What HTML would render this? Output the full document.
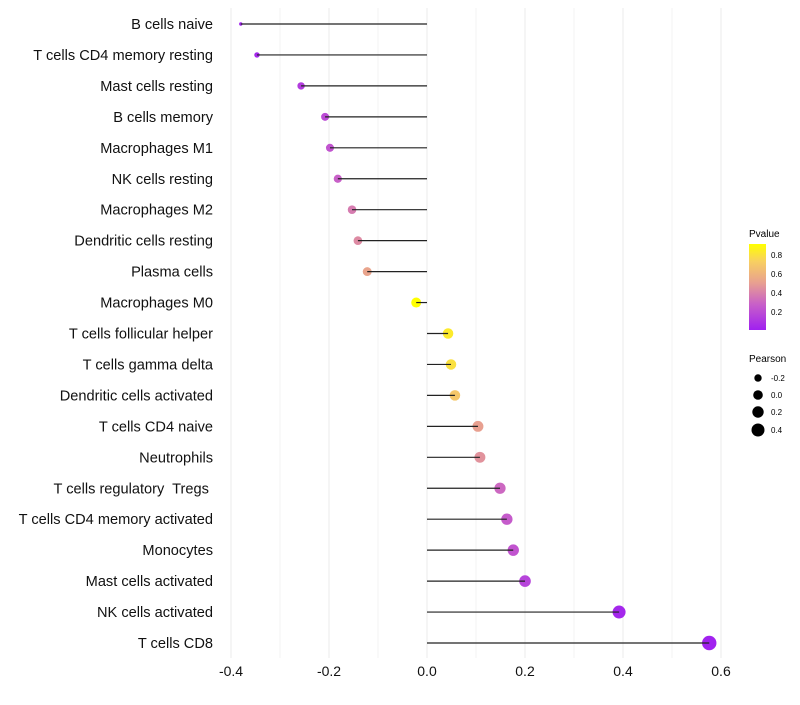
<!DOCTYPE html>
<html><head><meta charset="utf-8"><style>
body{margin:0;background:#fff;font-family:"Liberation Sans",sans-serif}
text{white-space:pre}
</style></head><body>
<svg id="c" width="800" height="700" xmlns="http://www.w3.org/2000/svg">
<defs><linearGradient id="pg" x1="0" y1="1" x2="0" y2="0">
<stop offset="0" stop-color="#a020f0"/><stop offset="0.3" stop-color="#c860c8"/><stop offset="0.55" stop-color="#e8a090"/><stop offset="0.8" stop-color="#f8d060"/><stop offset="1" stop-color="#ffff00"/></linearGradient></defs>
<g id="grid"></g><g id="marks"></g><g id="ylab"></g><g id="xlab"></g>
<g>
<text x="749" y="237" font-size="10">Pvalue</text>
<rect x="749" y="244" width="17" height="86" fill="url(#pg)"/>
<text x="771" y="258" font-size="8">0.8</text><text x="771" y="277" font-size="8">0.6</text>
<text x="771" y="296" font-size="8">0.4</text><text x="771" y="315" font-size="8">0.2</text>
</g>
<g>
<text x="749" y="362" font-size="10">Pearson</text>
<circle cx="758" cy="378" r="3.7"/><text x="771" y="381" font-size="8">-0.2</text>
<circle cx="758" cy="395" r="4.8"/><text x="771" y="398" font-size="8">0.0</text>
<circle cx="758" cy="412" r="5.7"/><text x="771" y="415" font-size="8">0.2</text>
<circle cx="758" cy="430" r="6.5"/><text x="771" y="433" font-size="8">0.4</text>
</g>
</svg>
<script>
const categories=["B cells naive","T cells CD4 memory resting","Mast cells resting","B cells memory","Macrophages M1","NK cells resting","Macrophages M2","Dendritic cells resting","Plasma cells","Macrophages M0","T cells follicular helper","T cells gamma delta","Dendritic cells activated","T cells CD4 naive","Neutrophils","T cells regulatory  Tregs ","T cells CD4 memory activated","Monocytes","Mast cells activated","NK cells activated","T cells CD8"];
const pearson=[-0.38,-0.347,-0.257,-0.208,-0.198,-0.182,-0.153,-0.141,-0.122,-0.022,0.043,0.049,0.057,0.104,0.108,0.149,0.163,0.176,0.2,0.392,0.576];
const pvalues=[0.01,0.03,0.12,0.18,0.22,0.27,0.37,0.42,0.52,0.9,0.82,0.78,0.68,0.5,0.45,0.3,0.25,0.22,0.15,0.03,0.01];
const xTicks=[-0.4,-0.2,0.0,0.2,0.4,0.6];
const ns="http://www.w3.org/2000/svg";
const X=v=>427+v*490;
const Y=i=>24+i*30.95;
const sizeAnchors=[[-0.38,1.7],[-0.347,2.7],[-0.257,3.7],[-0.022,5],[0.392,6.5],[0.576,7.2]];
function R(v){const a=sizeAnchors;if(v<=a[0][0])return a[0][1];for(let k=1;k<a.length;k++){if(v<=a[k][0]){const t=(v-a[k-1][0])/(a[k][0]-a[k-1][0]);return a[k-1][1]+t*(a[k][1]-a[k-1][1]);}}return a[a.length-1][1];}
const stops=[[0,[160,32,240]],[0.27,[200,96,200]],[0.5,[232,160,144]],[0.72,[248,208,96]],[0.9,[255,255,0]]];
function col(p){p=Math.max(0,Math.min(0.9,p));for(let k=1;k<stops.length;k++){if(p<=stops[k][0]){const a=stops[k-1],b=stops[k],t=(p-a[0])/(b[0]-a[0]);return "rgb("+a[1].map((c,j)=>Math.round(c+(b[1][j]-c)*t)).join(",")+")";}}return "rgb(255,255,0)";}
function mk(t,a,p){const e=document.createElementNS(ns,t);for(const k in a)e.setAttribute(k,a[k]);p.appendChild(e);return e;}
const grid=document.getElementById('grid'),marks=document.getElementById('marks'),yl=document.getElementById('ylab'),xl=document.getElementById('xlab');
for(let v=-0.4;v<=0.61;v+=0.1){const g=mk('line',{x1:X(v),x2:X(v),y1:8,y2:658,stroke:'#ebebeb','stroke-width':Math.abs(Math.round(v*10))%2==0?1:0.6},grid);

}
xTicks.forEach(v=>{const t=mk('text',{x:X(v),y:676,'font-size':14,'text-anchor':'middle',fill:'#111'},xl);t.textContent=v.toFixed(1);

});
categories.forEach((c,i)=>{
const t=mk('text',{x:213,y:Y(i)+5,'font-size':14.6,'text-anchor':'end',fill:'#111'},yl);t.textContent=c;


const pt=mk('circle',{cx:X(pearson[i]),cy:Y(i),r:R(pearson[i]),fill:col(pvalues[i])},marks);


const ln=mk('line',{x1:X(0),x2:X(pearson[i]),y1:Y(i),y2:Y(i),stroke:'#222','stroke-width':1.2},marks);


});
</script>
</body></html>
